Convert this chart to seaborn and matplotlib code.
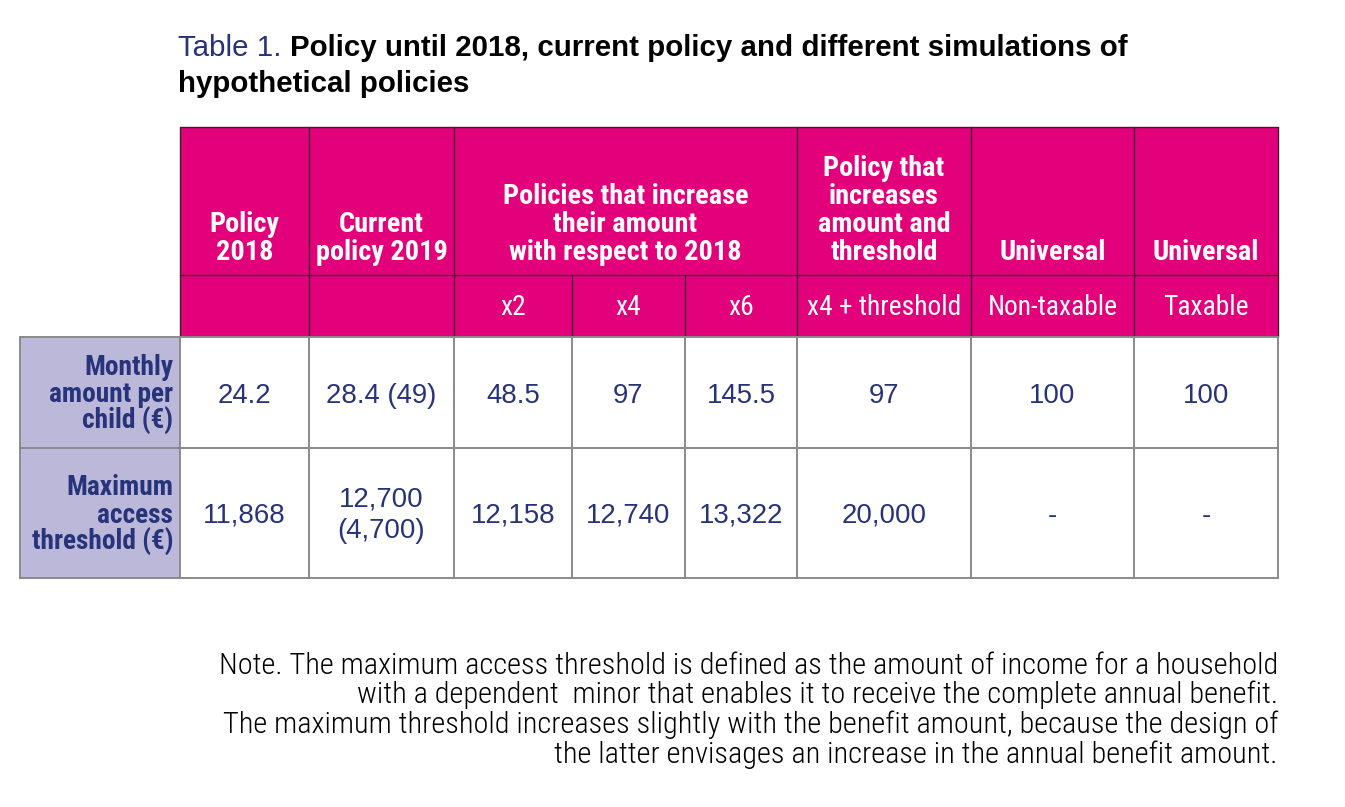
import matplotlib
matplotlib.use("Agg")
import matplotlib.pyplot as plt
from matplotlib.patches import Rectangle
from matplotlib import font_manager
import seaborn as sns

# ---------------- data ----------------
title_prefix = "Table 1."
title_lines = ["Policy until 2018, current policy and different simulations of",
               "hypothetical policies"]
top_headers = ["Policy\n2018", "Current\npolicy 2019",
               "Policies that increase\ntheir amount\nwith respect to 2018",
               "Policy that\nincreases\namount and\nthreshold",
               "Universal", "Universal"]
top_spans = [1, 1, 3, 1, 1, 1]
sub_headers = ["", "", "x2", "x4", "x6", "x4 + threshold", "Non-taxable", "Taxable"]
row_labels = ["Monthly\namount per\nchild (€)", "Maximum\naccess\nthreshold (€)"]
monthly_amount = ["24.2", "28.4 (49)", "48.5", "97", "145.5", "97", "100", "100"]
max_threshold = ["11,868", "12,700\n(4,700)", "12,158", "12,740", "13,322", "20,000", "-", "-"]
note_lines = ["Note. The maximum access threshold is defined as the amount of income for a household",
              "with a dependent  minor that enables it to receive the complete annual benefit.",
              "The maximum threshold increases slightly with the benefit amount, because the design of",
              "the latter envisages an increase in the annual benefit amount."]

# ---------------- style / fonts ----------------
sns.set_theme(style="white")
ttf = font_manager.fontManager.ttflist


def has_static(name, weight):
    return any(f.name == name and f.weight == weight and f.style == "normal"
               and "[" not in f.fname for f in ttf)


cond = "DejaVu Sans"
for cand in ["Roboto Condensed", "Encode Sans Condensed", "IBM Plex Sans Condensed",
             "Barlow Semi Condensed", "Fira Sans Condensed"]:
    if has_static(cand, 400) and has_static(cand, 700):
        cond = cand
        break
light_w = 300 if has_static(cond, 300) else 400
regular = "Liberation Sans" if has_static("Liberation Sans", 400) else "DejaVu Sans"
plt.rcParams["font.family"] = [regular, "DejaVu Sans"]
COND = [cond, "DejaVu Sans"]

MAGENTA = "#E3007B"
LAVENDER = "#BCB8DA"
NAVY = "#27337A"
HDR_LINE = "#3b1f2c"
BODY_LINE = "#8a8a8a"

W, H = 1345, 807
fig = plt.figure(figsize=(W / 100, H / 100), dpi=100)
ax = fig.add_axes([0, 0, 1, 1])
ax.set_xlim(0, W)
ax.set_ylim(H, 0)
ax.axis("off")

col_edges = [20, 180, 309, 454, 572, 685, 797, 971, 1134, 1278]
row_edges = [127, 275, 337, 448, 578]

# ---- backgrounds ----
ax.add_patch(Rectangle((col_edges[1], row_edges[0]), col_edges[-1] - col_edges[1],
                       row_edges[2] - row_edges[0], facecolor=MAGENTA, edgecolor="none"))
ax.add_patch(Rectangle((col_edges[0], row_edges[2]), col_edges[1] - col_edges[0],
                       row_edges[4] - row_edges[2], facecolor=LAVENDER, edgecolor="none"))

# ---- header grid ----
lw_h = 1.0
ax.plot([col_edges[1], col_edges[-1]], [row_edges[0]] * 2, color=HDR_LINE, lw=lw_h)
ax.plot([col_edges[1], col_edges[-1]], [row_edges[1]] * 2, color=HDR_LINE, lw=lw_h)
ci = 1
for span in top_spans:
    ax.plot([col_edges[ci]] * 2, [row_edges[0], row_edges[2]], color=HDR_LINE, lw=lw_h)
    ci += span
ax.plot([col_edges[ci]] * 2, [row_edges[0], row_edges[2]], color=HDR_LINE, lw=lw_h)
for c in range(4, 6):
    ax.plot([col_edges[c]] * 2, [row_edges[1], row_edges[2]], color=HDR_LINE, lw=lw_h)

# ---- body grid ----
lw_b = 1.4
for r in (2, 3, 4):
    ax.plot([col_edges[0], col_edges[-1]], [row_edges[r]] * 2, color=BODY_LINE, lw=lw_b)
for c in range(len(col_edges)):
    ax.plot([col_edges[c]] * 2, [row_edges[2], row_edges[4]], color=BODY_LINE, lw=lw_b)

groups = {k: [] for k in ["prefix", "title", "hdr", "sub", "lab", "val", "note"]}
ref = {}

# ---- header text ----
ci = 1
for txt, span in zip(top_headers, top_spans):
    xc = (col_edges[ci] + col_edges[ci + span]) / 2
    lines = txt.split("\n")
    n = len(lines)
    for i, ln in enumerate(lines):
        y = 259.5 - 27.7 * (n - 1 - i)
        t = ax.text(xc, y, ln, ha="center", va="baseline", color="white",
                    fontsize=16, fontweight="bold", family=COND)
        groups["hdr"].append(t)
        if ln == "Policies that increase":
            ref["hdr"] = (t, 245)
    ci += span

for c, txt in enumerate(sub_headers):
    xc = (col_edges[c + 1] + col_edges[c + 2]) / 2
    t = ax.text(xc, 315, txt, ha="center", va="baseline", color="white",
                fontsize=16, family=COND)
    groups["sub"].append(t)
    if txt == "x4 + threshold":
        ref["sub"] = (t, 155)

# ---- body ----
body_rows = [monthly_amount, max_threshold]
label_base = [[375, 402, 429], [495, 523, 550]]
val_single = [403, 523]
val_double = [[387, 418], [507, 538]]
for r, (lab, vals) in enumerate(zip(row_labels, body_rows)):
    for i, ln in enumerate(lab.split("\n")):
        t = ax.text(173, label_base[r][i], ln, ha="right", va="baseline", color=NAVY,
                    fontsize=16, fontweight="bold", family=COND)
        groups["lab"].append(t)
        if ln == "amount per":
            ref["lab"] = (t, 124)
    for c, v in enumerate(vals):
        xc = (col_edges[c + 1] + col_edges[c + 2]) / 2
        vl = v.split("\n")
        ys = [val_single[r]] if len(vl) == 1 else val_double[r]
        for s, y in zip(vl, ys):
            t = ax.text(xc, y, s, ha="center", va="baseline", color=NAVY, fontsize=18)
            groups["val"].append(t)
            if s == "28.4 (49)":
                ref["val"] = (t, 111)

# ---- title ----
t0 = ax.text(178, 56, title_prefix, ha="left", va="baseline", color=NAVY, fontsize=20)
groups["prefix"].append(t0)
ref["prefix"] = (t0, 103)
t1 = ax.text(290, 56, title_lines[0], ha="left", va="baseline", color="black",
             fontsize=20, fontweight="bold")
t2 = ax.text(178, 92, title_lines[1], ha="left", va="baseline", color="black",
             fontsize=20, fontweight="bold")
groups["title"] += [t1, t2]
ref["title"] = (t1, 838)

# ---- note ----
for ln, y in zip(note_lines, [674, 703, 733, 763]):
    t = ax.text(1278, y, ln, ha="right", va="baseline", color="black",
                fontsize=16, fontweight=light_w, family=COND)
    groups["note"].append(t)
    if ln.startswith("Note."):
        ref["note"] = (t, 1058)

# ---- fit font sizes to the reference's measured text widths ----
fig.canvas.draw()
rend = fig.canvas.get_renderer()
for k, (t, target) in ref.items():
    w = t.get_window_extent(renderer=rend).width
    f = target / w
    for tt in groups[k]:
        tt.set_fontsize(tt.get_fontsize() * f)

fig.savefig("out.png", dpi=100)
